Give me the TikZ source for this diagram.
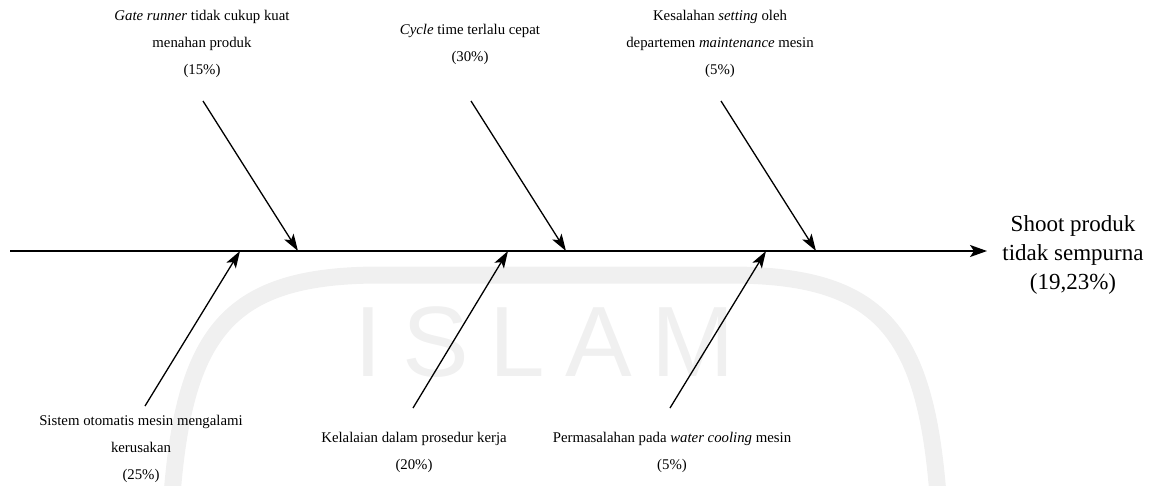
\documentclass[tikz,border=0pt]{standalone}
\usepackage{fontspec}
\setmainfont{Liberation Serif}
\newfontfamily\wmfont{Liberation Sans}
\usetikzlibrary{arrows.meta}
\begin{document}
\begin{tikzpicture}[x=1pt,y=-1pt,
  spine/.style={line width=1.8pt,-{Stealth[length=17pt,width=12pt,inset=4pt]}},
  bone/.style={line width=1.3pt,-{Stealth[length=17pt,width=11pt,inset=4pt]}},
  cause/.style={align=center,inner sep=0pt,font=\fontsize{14.8}{27}\selectfont},
  effect/.style={align=center,inner sep=0pt,font=\fontsize{23}{29}\selectfont},
  wmline/.style={draw=black!6,line width=17pt},
  wmtext/.style={text=black!6,inner sep=0pt,font=\wmfont\fontsize{100}{100}\selectfont\addfontfeature{LetterSpace=20}}
]
\useasboundingbox (0,0) rectangle (1155,485);

% faint background logo
\begin{scope}
  \clip (0,0) rectangle (1155,485);
  \draw[wmline] (172,495) .. controls (185,330) and (230,275) .. (380,275)
    -- (730,275) .. controls (880,275) and (925,330) .. (938,495);
  \node[wmtext] (wm) at (545,342) {ISLAM};
\end{scope}

% head of the fish
\node[effect] (effect) at (1073,255) {Shoot produk\\ tidak sempurna\\ (19,23\%)};
\coordinate (tail) at (10,251);
\coordinate (head) at (987,251);
\draw[spine] (tail) -- (head);

% causes above the spine
\node[cause] (c1) at (202,44) {\textit{Gate runner} tidak cukup kuat\\ menahan produk\\ (15\%)};
\node[cause] (c2) at (470,44) {\textit{Cycle} time terlalu cepat\\ (30\%)};
\node[cause] (c3) at (720,44) {Kesalahan \textit{setting} oleh\\ departemen \textit{maintenance} mesin\\ (5\%)};

% causes below the spine
\node[cause] (c4) at (141,449) {Sistem otomatis mesin mengalami\\ kerusakan\\ (25\%)};
\node[cause] (c5) at (414,452) {Kelalaian dalam prosedur kerja\\ (20\%)};
\node[cause] (c6) at (672,452) {Permasalahan pada \textit{water cooling} mesin\\ (5\%)};

% bone end points
\coordinate (b1s) at (203,101); \coordinate (b1e) at (298,251);
\coordinate (b2s) at (471,101); \coordinate (b2e) at (566,251);
\coordinate (b3s) at (721,101); \coordinate (b3e) at (816,251);
\coordinate (b4s) at (145,406); \coordinate (b4e) at (240,251);
\coordinate (b5s) at (413,408); \coordinate (b5e) at (508,251);
\coordinate (b6s) at (670,408); \coordinate (b6e) at (766,251);

\draw[bone] (b1s) -- (b1e);
\draw[bone] (b2s) -- (b2e);
\draw[bone] (b3s) -- (b3e);
\draw[bone] (b4s) -- (b4e);
\draw[bone] (b5s) -- (b5e);
\draw[bone] (b6s) -- (b6e);
\end{tikzpicture}
\end{document}
